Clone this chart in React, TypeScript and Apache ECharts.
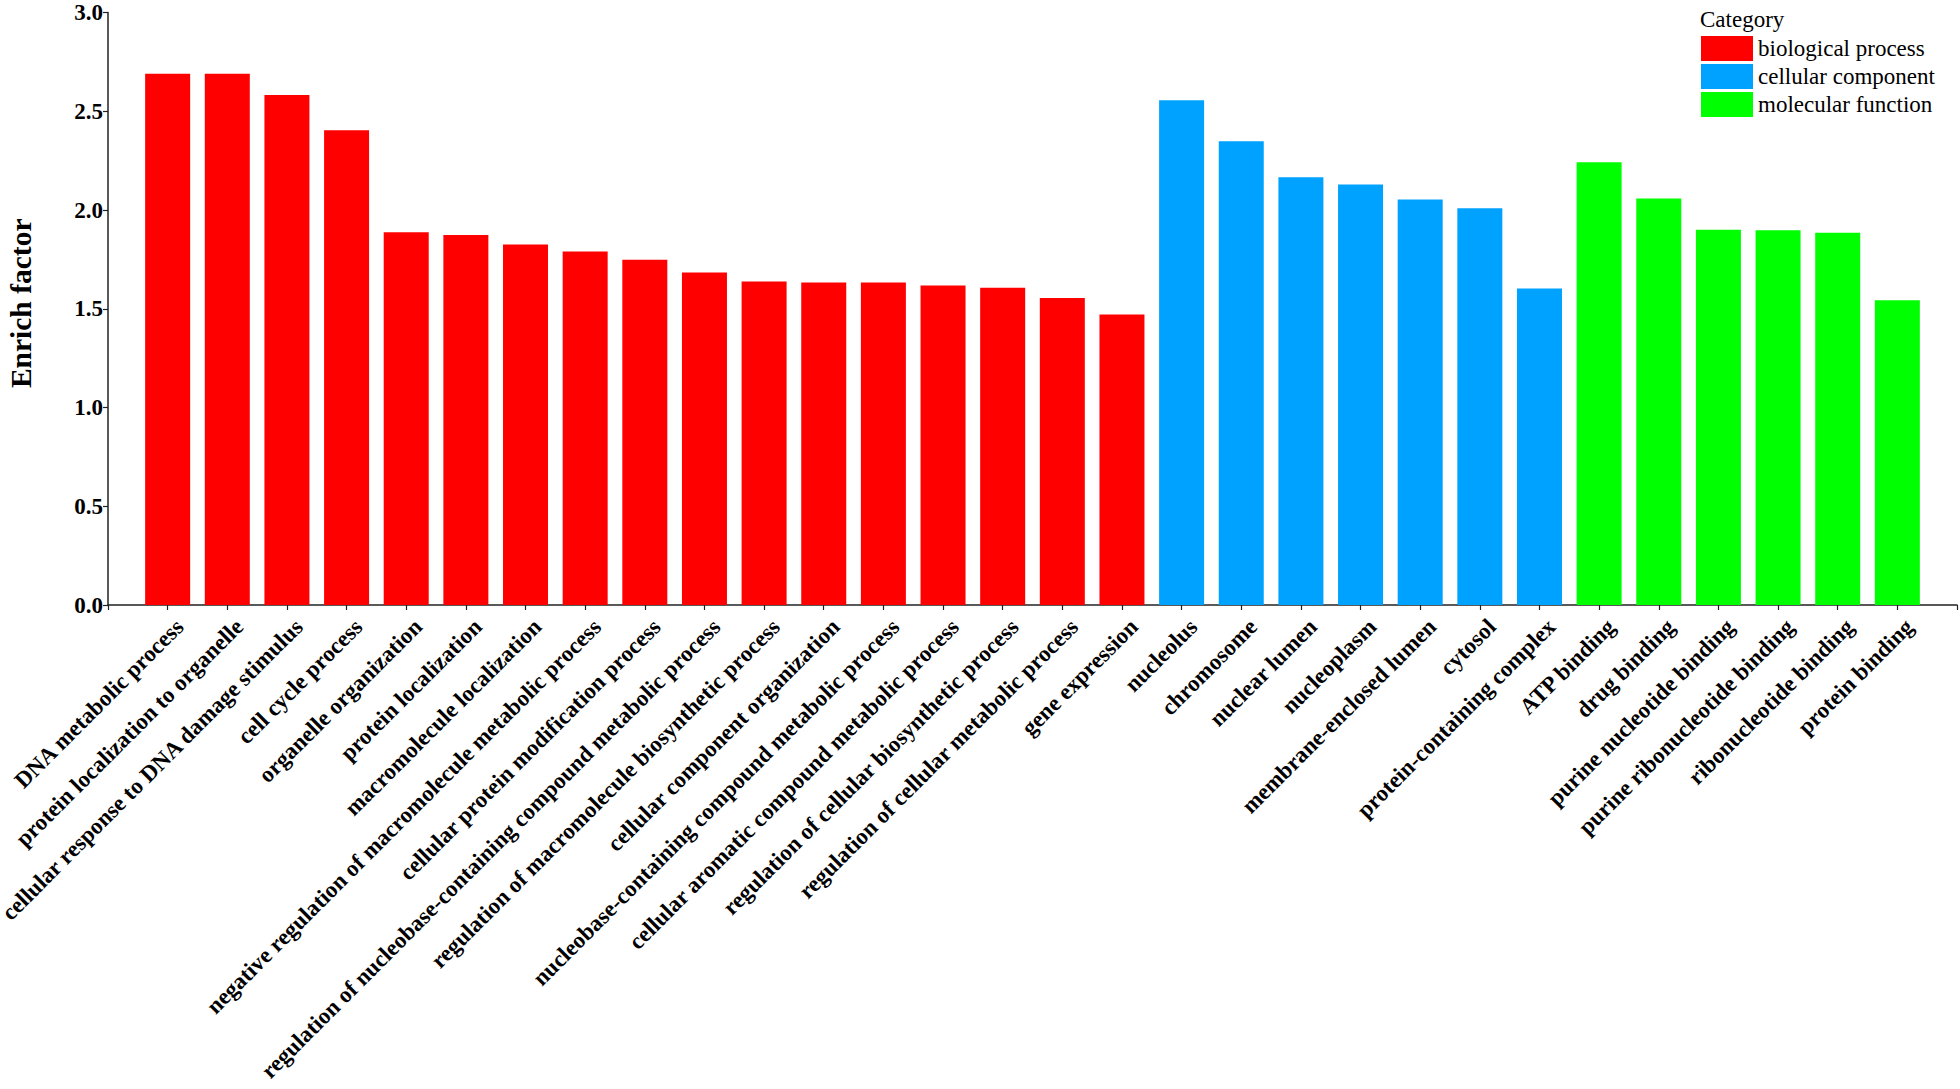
import React, { useEffect, useRef } from "react";
import * as echarts from "echarts";

// Biological process
const bpNames = [
  "DNA metabolic process",
  "protein localization to organelle",
  "cellular response to DNA damage stimulus",
  "cell cycle process",
  "organelle organization",
  "protein localization",
  "macromolecule localization",
  "negative regulation of macromolecule metabolic process",
  "cellular protein modification process",
  "regulation of nucleobase-containing compound metabolic process",
  "regulation of macromolecule biosynthetic process",
  "cellular component organization",
  "nucleobase-containing compound metabolic process",
  "cellular aromatic compound metabolic process",
  "regulation of cellular biosynthetic process",
  "regulation of cellular metabolic process",
  "gene expression",
];
const bpValues = [2.69, 2.69, 2.583, 2.404, 1.888, 1.874, 1.825, 1.79, 1.749, 1.684, 1.638, 1.633, 1.633, 1.618, 1.607, 1.555, 1.471];

// Cellular component
const ccNames = [
  "nucleolus",
  "chromosome",
  "nuclear lumen",
  "nucleoplasm",
  "membrane-enclosed lumen",
  "cytosol",
  "protein-containing complex",
];
const ccValues = [2.556, 2.349, 2.166, 2.13, 2.054, 2.009, 1.603];

// Molecular function
const mfNames = [
  "ATP binding",
  "drug binding",
  "purine nucleotide binding",
  "purine ribonucleotide binding",
  "ribonucleotide binding",
  "protein binding",
];
const mfValues = [2.242, 2.058, 1.9, 1.898, 1.885, 1.543];

const groupNames = ["biological process", "cellular component", "molecular function"];
const groupColors = ["#FF0000", "#00A2FF", "#00FF00"];
const yTicks = [0, 0.5, 1.0, 1.5, 2.0, 2.5, 3.0];

const FONT = "'Liberation Serif', 'Times New Roman', serif";

export default function App() {
  const ref = useRef<HTMLDivElement>(null);

  useEffect(() => {
    if (!ref.current) return;
    const chart = echarts.init(ref.current, null, { renderer: "svg" });
    const allNames = [...bpNames, ...ccNames, ...mfNames];
    const groups = [
      { names: bpNames, values: bpValues },
      { names: ccNames, values: ccValues },
      { names: mfNames, values: mfValues },
    ];
    let offset = 0;
    const series = groups.map((g, gi) => {
      const data = g.values.map((v, i) => [offset + i + 1, v]);
      offset += g.values.length;
      return {
        name: groupNames[gi],
        type: "bar",
        data,
        barWidth: 45,
        barGap: "-100%",
        itemStyle: { color: groupColors[gi] },
      };
    });
    const n = allNames.length;

    chart.setOption({
      animation: false,
      backgroundColor: "#ffffff",
      title: {
        text: "Category",
        left: 1700,
        top: 8,
        padding: 0,
        textStyle: { fontFamily: FONT, fontSize: 23, fontWeight: "normal", color: "#000" },
      },
      legend: {
        orient: "vertical",
        left: 1701,
        top: 36,
        padding: 0,
        itemWidth: 52,
        itemHeight: 25,
        itemGap: 3,
        icon: "rect",
        data: groupNames,
        textStyle: { fontFamily: FONT, fontSize: 23, color: "#000", padding: [0, 0, 0, 0] },
      },
      grid: {
        left: 108,
        right: 3,
        top: 12.6,
        bottom: 484,
        containLabel: false,
        outerBoundsMode: "none",
      },
      xAxis: {
        type: "value",
        min: 0,
        max: n + 1,
        interval: 1,
        splitLine: { show: false },
        axisLine: { show: true, lineStyle: { color: "#222", width: 1.5 } },
        axisTick: { show: true, length: 5, lineStyle: { color: "#222", width: 1.2 } },
        axisLabel: {
          rotate: 45,
          margin: 6,
          fontFamily: FONT,
          fontWeight: "bold",
          fontSize: 23,
          lineHeight: 34,
          verticalAlign: "top",
          color: "#000",
          showMinLabel: true,
          showMaxLabel: true,
          formatter: (v: number) => (v >= 1 && v <= n ? allNames[v - 1] : ""),
        },
      },
      yAxis: {
        type: "value",
        min: yTicks[0],
        max: yTicks[yTicks.length - 1],
        interval: 0.5,
        name: "Enrich factor",
        nameLocation: "middle",
        nameGap: 72,
        nameTextStyle: {
          fontFamily: FONT,
          fontWeight: "bold",
          fontSize: 29.5,
          color: "#000",
          padding: [0, 0, 0, 11],
        },
        splitLine: { show: false },
        axisLine: { show: true, lineStyle: { color: "#222", width: 1.5 } },
        axisTick: { show: true, length: 5, lineStyle: { color: "#222", width: 1.2 } },
        axisLabel: {
          margin: 5,
          fontFamily: FONT,
          fontWeight: "bold",
          fontSize: 23,
          color: "#000",
          formatter: (v: number) => v.toFixed(1),
        },
      },
      series,
    });
    return () => chart.dispose();
  }, []);

  return (
    <div
      ref={ref}
      style={{ position: "absolute", left: 0, top: 0, width: 1960, height: 1089, background: "#fff" }}
    />
  );
}
